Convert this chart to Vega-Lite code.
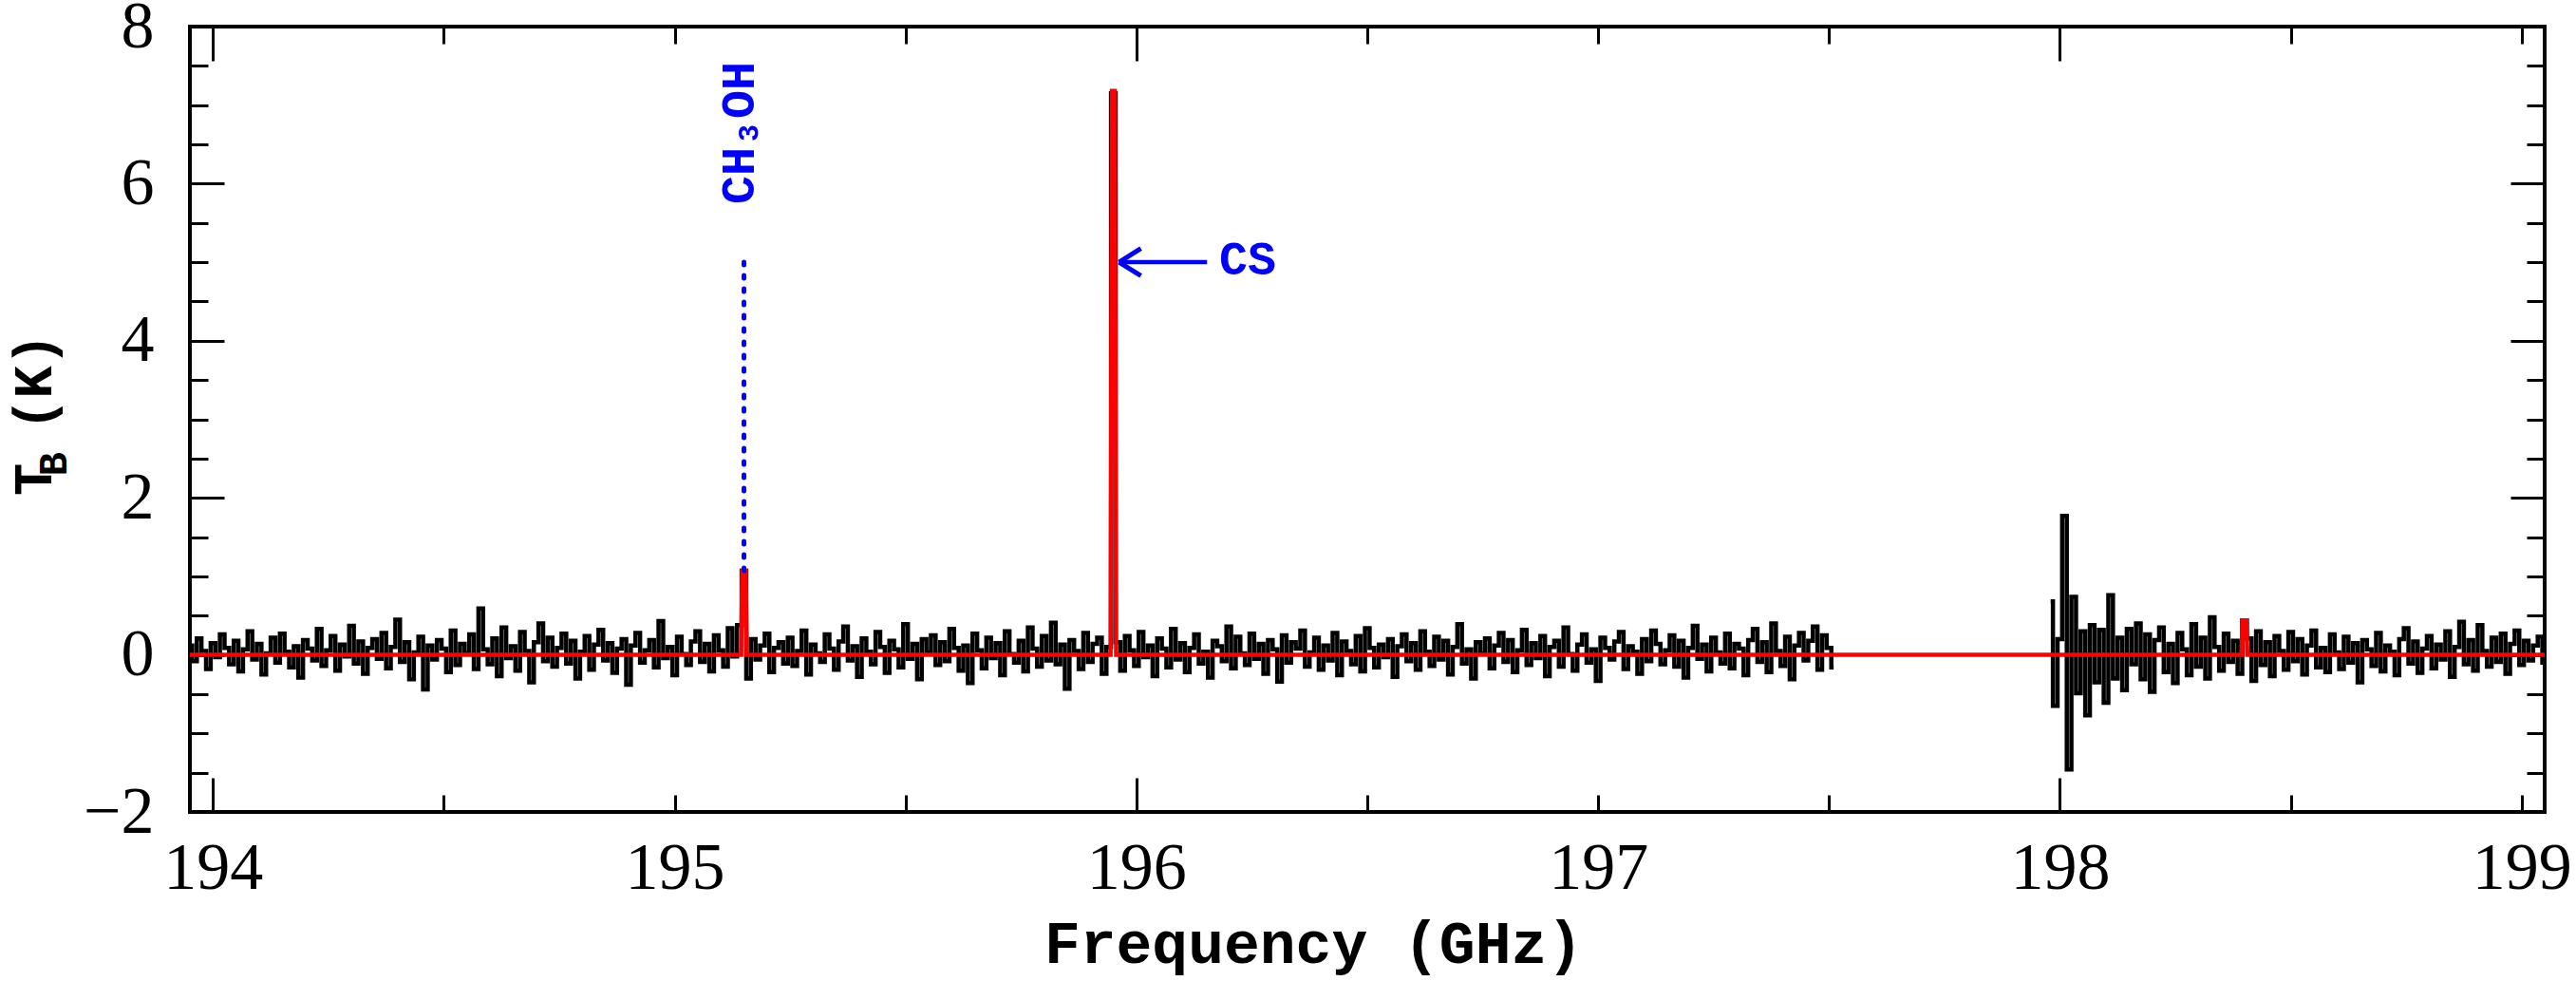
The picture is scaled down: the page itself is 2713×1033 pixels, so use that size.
{
  "$schema": "https://vega.github.io/schema/vega-lite/v6.json",
  "width": 2480,
  "height": 827,
  "autosize": {"type": "none"},
  "padding": {"left": 200, "top": 28, "right": 33, "bottom": 178},
  "background": "white",
  "config": {
    "view": {"stroke": "#000", "strokeWidth": 4},
    "axis": {
      "grid": false, "domain": false, "tickColor": "#000", "tickWidth": 3,
      "labelColor": "#000", "titleColor": "#000",
      "labelFont": "Liberation Serif", "labelFontSize": 70,
      "titleFont": "Liberation Mono", "titleFontWeight": "bold",
      "labelOverlap": false, "labelFlush": false
    }
  },
  "datasets": {
    "obs": [
      {"f":193.95,"t":0.12,"s":1},{"f":193.96,"t":-0.08,"s":1},{"f":193.97,"t":0.21,"s":1},{"f":193.98,"t":0.05,"s":1},{"f":193.99,"t":-0.18,"s":1},
      {"f":194.00,"t":0.15,"s":1},{"f":194.01,"t":-0.03,"s":1},{"f":194.02,"t":0.26,"s":1},{"f":194.03,"t":0.09,"s":1},{"f":194.04,"t":-0.12,"s":1},
      {"f":194.05,"t":0.18,"s":1},{"f":194.06,"t":-0.21,"s":1},{"f":194.07,"t":0.07,"s":1},{"f":194.08,"t":0.30,"s":1},{"f":194.09,"t":-0.06,"s":1},
      {"f":194.10,"t":0.14,"s":1},{"f":194.11,"t":-0.25,"s":1},{"f":194.12,"t":0.02,"s":1},{"f":194.13,"t":0.22,"s":1},{"f":194.14,"t":-0.10,"s":1},
      {"f":194.15,"t":0.27,"s":1},{"f":194.16,"t":0.04,"s":1},{"f":194.17,"t":-0.16,"s":1},{"f":194.18,"t":0.11,"s":1},{"f":194.19,"t":-0.29,"s":1},
      {"f":194.20,"t":0.19,"s":1},{"f":194.21,"t":0.08,"s":1},{"f":194.22,"t":-0.07,"s":1},{"f":194.23,"t":0.33,"s":1},{"f":194.24,"t":-0.14,"s":1},
      {"f":194.25,"t":0.06,"s":1},{"f":194.26,"t":0.24,"s":1},{"f":194.27,"t":-0.20,"s":1},{"f":194.28,"t":0.13,"s":1},{"f":194.29,"t":-0.02,"s":1},
      {"f":194.30,"t":0.37,"s":1},{"f":194.31,"t":-0.11,"s":1},{"f":194.32,"t":0.17,"s":1},{"f":194.33,"t":-0.24,"s":1},{"f":194.34,"t":0.09,"s":1},
      {"f":194.35,"t":0.20,"s":1},{"f":194.36,"t":-0.05,"s":1},{"f":194.37,"t":0.28,"s":1},{"f":194.38,"t":-0.17,"s":1},{"f":194.39,"t":0.10,"s":1},
      {"f":194.40,"t":0.45,"s":1},{"f":194.41,"t":-0.09,"s":1},{"f":194.42,"t":0.16,"s":1},{"f":194.43,"t":-0.31,"s":1},{"f":194.44,"t":0.03,"s":1},
      {"f":194.45,"t":0.23,"s":1},{"f":194.46,"t":-0.44,"s":1},{"f":194.47,"t":0.12,"s":1},{"f":194.48,"t":-0.06,"s":1},{"f":194.49,"t":0.19,"s":1},
      {"f":194.50,"t":0.08,"s":1},{"f":194.51,"t":-0.22,"s":1},{"f":194.52,"t":0.31,"s":1},{"f":194.53,"t":-0.13,"s":1},{"f":194.54,"t":0.14,"s":1},
      {"f":194.55,"t":0.02,"s":1},{"f":194.56,"t":0.26,"s":1},{"f":194.57,"t":-0.18,"s":1},{"f":194.58,"t":0.59,"s":1},{"f":194.59,"t":0.07,"s":1},
      {"f":194.60,"t":-0.12,"s":1},{"f":194.61,"t":0.21,"s":1},{"f":194.62,"t":-0.27,"s":1},{"f":194.63,"t":0.35,"s":1},{"f":194.64,"t":-0.04,"s":1},
      {"f":194.65,"t":0.11,"s":1},{"f":194.66,"t":-0.20,"s":1},{"f":194.67,"t":0.29,"s":1},{"f":194.68,"t":0.05,"s":1},{"f":194.69,"t":-0.35,"s":1},
      {"f":194.70,"t":0.16,"s":1},{"f":194.71,"t":0.40,"s":1},{"f":194.72,"t":-0.08,"s":1},{"f":194.73,"t":0.22,"s":1},{"f":194.74,"t":-0.15,"s":1},
      {"f":194.75,"t":0.09,"s":1},{"f":194.76,"t":0.27,"s":1},{"f":194.77,"t":-0.11,"s":1},{"f":194.78,"t":0.18,"s":1},{"f":194.79,"t":-0.30,"s":1},
      {"f":194.80,"t":0.04,"s":1},{"f":194.81,"t":0.24,"s":1},{"f":194.82,"t":-0.19,"s":1},{"f":194.83,"t":0.13,"s":1},{"f":194.84,"t":0.32,"s":1},
      {"f":194.85,"t":-0.07,"s":1},{"f":194.86,"t":0.15,"s":1},{"f":194.87,"t":-0.23,"s":1},{"f":194.88,"t":0.08,"s":1},{"f":194.89,"t":0.20,"s":1},
      {"f":194.90,"t":-0.38,"s":1},{"f":194.91,"t":0.12,"s":1},{"f":194.92,"t":0.28,"s":1},{"f":194.93,"t":-0.10,"s":1},{"f":194.94,"t":0.06,"s":1},
      {"f":194.95,"t":0.19,"s":1},{"f":194.96,"t":-0.16,"s":1},{"f":194.97,"t":0.43,"s":1},{"f":194.98,"t":-0.04,"s":1},{"f":194.99,"t":0.10,"s":1},
      {"f":195.00,"t":-0.26,"s":1},{"f":195.01,"t":0.23,"s":1},{"f":195.02,"t":0.01,"s":1},{"f":195.03,"t":-0.13,"s":1},{"f":195.04,"t":0.17,"s":1},
      {"f":195.05,"t":0.30,"s":1},{"f":195.06,"t":-0.09,"s":1},{"f":195.07,"t":0.14,"s":1},{"f":195.08,"t":-0.21,"s":1},{"f":195.09,"t":0.25,"s":1},
      {"f":195.10,"t":0.06,"s":1},{"f":195.11,"t":-0.15,"s":1},{"f":195.12,"t":0.34,"s":1},{"f":195.13,"t":-0.02,"s":1},{"f":195.14,"t":0.38,"s":1},
      {"f":195.15,"t":1.07,"s":1},{"f":195.16,"t":-0.30,"s":1},{"f":195.17,"t":0.20,"s":1},{"f":195.18,"t":-0.06,"s":1},{"f":195.19,"t":0.12,"s":1},
      {"f":195.20,"t":0.27,"s":1},{"f":195.21,"t":-0.22,"s":1},{"f":195.22,"t":0.09,"s":1},{"f":195.23,"t":0.16,"s":1},{"f":195.24,"t":-0.11,"s":1},
      {"f":195.25,"t":0.22,"s":1},{"f":195.26,"t":-0.14,"s":1},{"f":195.27,"t":0.05,"s":1},{"f":195.28,"t":0.31,"s":1},{"f":195.29,"t":-0.25,"s":1},
      {"f":195.30,"t":0.13,"s":1},{"f":195.31,"t":0.02,"s":1},{"f":195.32,"t":-0.09,"s":1},{"f":195.33,"t":0.26,"s":1},{"f":195.34,"t":0.08,"s":1},
      {"f":195.35,"t":-0.19,"s":1},{"f":195.36,"t":0.17,"s":1},{"f":195.37,"t":0.36,"s":1},{"f":195.38,"t":-0.07,"s":1},{"f":195.39,"t":0.11,"s":1},
      {"f":195.40,"t":-0.28,"s":1},{"f":195.41,"t":0.21,"s":1},{"f":195.42,"t":0.04,"s":1},{"f":195.43,"t":-0.12,"s":1},{"f":195.44,"t":0.29,"s":1},
      {"f":195.45,"t":0.10,"s":1},{"f":195.46,"t":-0.23,"s":1},{"f":195.47,"t":0.18,"s":1},{"f":195.48,"t":0.07,"s":1},{"f":195.49,"t":-0.16,"s":1},
      {"f":195.50,"t":0.39,"s":1},{"f":195.51,"t":-0.05,"s":1},{"f":195.52,"t":0.14,"s":1},{"f":195.53,"t":-0.31,"s":1},{"f":195.54,"t":0.20,"s":1},
      {"f":195.55,"t":0.03,"s":1},{"f":195.56,"t":0.25,"s":1},{"f":195.57,"t":-0.13,"s":1},{"f":195.58,"t":0.16,"s":1},{"f":195.59,"t":-0.08,"s":1},
      {"f":195.60,"t":0.33,"s":1},{"f":195.61,"t":0.09,"s":1},{"f":195.62,"t":-0.20,"s":1},{"f":195.63,"t":0.12,"s":1},{"f":195.64,"t":-0.36,"s":1},
      {"f":195.65,"t":0.27,"s":1},{"f":195.66,"t":0.06,"s":1},{"f":195.67,"t":-0.17,"s":1},{"f":195.68,"t":0.22,"s":1},{"f":195.69,"t":-0.04,"s":1},
      {"f":195.70,"t":0.15,"s":1},{"f":195.71,"t":-0.26,"s":1},{"f":195.72,"t":0.30,"s":1},{"f":195.73,"t":0.01,"s":1},{"f":195.74,"t":-0.10,"s":1},
      {"f":195.75,"t":0.18,"s":1},{"f":195.76,"t":-0.21,"s":1},{"f":195.77,"t":0.35,"s":1},{"f":195.78,"t":0.08,"s":1},{"f":195.79,"t":-0.15,"s":1},
      {"f":195.80,"t":0.24,"s":1},{"f":195.81,"t":-0.07,"s":1},{"f":195.82,"t":0.41,"s":1},{"f":195.83,"t":-0.12,"s":1},{"f":195.84,"t":0.13,"s":1},
      {"f":195.85,"t":-0.43,"s":1},{"f":195.86,"t":0.19,"s":1},{"f":195.87,"t":0.05,"s":1},{"f":195.88,"t":-0.18,"s":1},{"f":195.89,"t":0.28,"s":1},
      {"f":195.90,"t":-0.09,"s":1},{"f":195.91,"t":0.14,"s":1},{"f":195.92,"t":0.22,"s":1},{"f":195.93,"t":-0.24,"s":1},{"f":195.94,"t":0.10,"s":1},
      {"f":195.95,"t":7.15,"s":1},{"f":195.96,"t":0.16,"s":1},{"f":195.97,"t":-0.20,"s":1},{"f":195.98,"t":0.24,"s":1},{"f":195.99,"t":0.06,"s":1},
      {"f":196.00,"t":-0.14,"s":1},{"f":196.01,"t":0.29,"s":1},{"f":196.02,"t":-0.03,"s":1},{"f":196.03,"t":0.12,"s":1},{"f":196.04,"t":-0.27,"s":1},
      {"f":196.05,"t":0.21,"s":1},{"f":196.06,"t":0.08,"s":1},{"f":196.07,"t":-0.16,"s":1},{"f":196.08,"t":0.33,"s":1},{"f":196.09,"t":-0.06,"s":1},
      {"f":196.10,"t":0.15,"s":1},{"f":196.11,"t":-0.22,"s":1},{"f":196.12,"t":0.09,"s":1},{"f":196.13,"t":0.26,"s":1},{"f":196.14,"t":-0.11,"s":1},
      {"f":196.15,"t":0.04,"s":1},{"f":196.16,"t":-0.29,"s":1},{"f":196.17,"t":0.18,"s":1},{"f":196.18,"t":0.11,"s":1},{"f":196.19,"t":-0.08,"s":1},
      {"f":196.20,"t":0.36,"s":1},{"f":196.21,"t":-0.17,"s":1},{"f":196.22,"t":0.23,"s":1},{"f":196.23,"t":0.02,"s":1},{"f":196.24,"t":-0.13,"s":1},
      {"f":196.25,"t":0.27,"s":1},{"f":196.26,"t":-0.05,"s":1},{"f":196.27,"t":0.14,"s":1},{"f":196.28,"t":-0.24,"s":1},{"f":196.29,"t":0.19,"s":1},
      {"f":196.30,"t":0.07,"s":1},{"f":196.31,"t":-0.34,"s":1},{"f":196.32,"t":0.25,"s":1},{"f":196.33,"t":-0.10,"s":1},{"f":196.34,"t":0.16,"s":1},
      {"f":196.35,"t":0.08,"s":1},{"f":196.36,"t":0.31,"s":1},{"f":196.37,"t":-0.15,"s":1},{"f":196.38,"t":0.03,"s":1},{"f":196.39,"t":0.22,"s":1},
      {"f":196.40,"t":-0.19,"s":1},{"f":196.41,"t":0.12,"s":1},{"f":196.42,"t":-0.07,"s":1},{"f":196.43,"t":0.28,"s":1},{"f":196.44,"t":-0.26,"s":1},
      {"f":196.45,"t":0.17,"s":1},{"f":196.46,"t":0.05,"s":1},{"f":196.47,"t":-0.12,"s":1},{"f":196.48,"t":0.24,"s":1},{"f":196.49,"t":-0.21,"s":1},
      {"f":196.50,"t":0.34,"s":1},{"f":196.51,"t":0.09,"s":1},{"f":196.52,"t":-0.16,"s":1},{"f":196.53,"t":0.13,"s":1},{"f":196.54,"t":-0.03,"s":1},
      {"f":196.55,"t":0.20,"s":1},{"f":196.56,"t":-0.28,"s":1},{"f":196.57,"t":0.11,"s":1},{"f":196.58,"t":0.26,"s":1},{"f":196.59,"t":-0.08,"s":1},
      {"f":196.60,"t":0.15,"s":1},{"f":196.61,"t":-0.19,"s":1},{"f":196.62,"t":0.30,"s":1},{"f":196.63,"t":0.04,"s":1},{"f":196.64,"t":-0.14,"s":1},
      {"f":196.65,"t":0.23,"s":1},{"f":196.66,"t":-0.06,"s":1},{"f":196.67,"t":0.18,"s":1},{"f":196.68,"t":-0.25,"s":1},{"f":196.69,"t":0.10,"s":1},
      {"f":196.70,"t":0.39,"s":1},{"f":196.71,"t":-0.11,"s":1},{"f":196.72,"t":0.07,"s":1},{"f":196.73,"t":-0.30,"s":1},{"f":196.74,"t":0.16,"s":1},
      {"f":196.75,"t":0.02,"s":1},{"f":196.76,"t":0.21,"s":1},{"f":196.77,"t":-0.17,"s":1},{"f":196.78,"t":0.12,"s":1},{"f":196.79,"t":0.28,"s":1},
      {"f":196.80,"t":-0.09,"s":1},{"f":196.81,"t":0.19,"s":1},{"f":196.82,"t":-0.22,"s":1},{"f":196.83,"t":0.06,"s":1},{"f":196.84,"t":0.32,"s":1},
      {"f":196.85,"t":-0.13,"s":1},{"f":196.86,"t":0.15,"s":1},{"f":196.87,"t":-0.04,"s":1},{"f":196.88,"t":0.24,"s":1},{"f":196.89,"t":-0.27,"s":1},
      {"f":196.90,"t":0.10,"s":1},{"f":196.91,"t":0.18,"s":1},{"f":196.92,"t":-0.15,"s":1},{"f":196.93,"t":0.35,"s":1},{"f":196.94,"t":0.01,"s":1},
      {"f":196.95,"t":-0.20,"s":1},{"f":196.96,"t":0.13,"s":1},{"f":196.97,"t":0.26,"s":1},{"f":196.98,"t":-0.10,"s":1},{"f":196.99,"t":0.07,"s":1},
      {"f":197.00,"t":-0.33,"s":1},{"f":197.01,"t":0.22,"s":1},{"f":197.02,"t":0.09,"s":1},{"f":197.03,"t":-0.06,"s":1},{"f":197.04,"t":0.17,"s":1},
      {"f":197.05,"t":0.29,"s":1},{"f":197.06,"t":-0.18,"s":1},{"f":197.07,"t":0.11,"s":1},{"f":197.08,"t":0.04,"s":1},{"f":197.09,"t":-0.24,"s":1},
      {"f":197.10,"t":0.20,"s":1},{"f":197.11,"t":-0.08,"s":1},{"f":197.12,"t":0.31,"s":1},{"f":197.13,"t":0.14,"s":1},{"f":197.14,"t":-0.12,"s":1},
      {"f":197.15,"t":0.06,"s":1},{"f":197.16,"t":0.25,"s":1},{"f":197.17,"t":-0.15,"s":1},{"f":197.18,"t":0.18,"s":1},{"f":197.19,"t":-0.29,"s":1},
      {"f":197.20,"t":0.09,"s":1},{"f":197.21,"t":0.37,"s":1},{"f":197.22,"t":-0.05,"s":1},{"f":197.23,"t":0.13,"s":1},{"f":197.24,"t":-0.21,"s":1},
      {"f":197.25,"t":0.22,"s":1},{"f":197.26,"t":0.03,"s":1},{"f":197.27,"t":-0.11,"s":1},{"f":197.28,"t":0.27,"s":1},{"f":197.29,"t":-0.17,"s":1},
      {"f":197.30,"t":0.14,"s":1},{"f":197.31,"t":0.08,"s":1},{"f":197.32,"t":-0.26,"s":1},{"f":197.33,"t":0.19,"s":1},{"f":197.34,"t":0.33,"s":1},
      {"f":197.35,"t":-0.09,"s":1},{"f":197.36,"t":0.16,"s":1},{"f":197.37,"t":-0.22,"s":1},{"f":197.38,"t":0.40,"s":1},{"f":197.39,"t":0.05,"s":1},
      {"f":197.40,"t":-0.14,"s":1},{"f":197.41,"t":0.23,"s":1},{"f":197.42,"t":-0.31,"s":1},{"f":197.43,"t":0.12,"s":1},{"f":197.44,"t":0.28,"s":1},
      {"f":197.45,"t":-0.07,"s":1},{"f":197.46,"t":0.18,"s":1},{"f":197.47,"t":0.36,"s":1},{"f":197.48,"t":-0.19,"s":1},{"f":197.49,"t":0.25,"s":1},
      {"f":197.50,"t":0.09,"s":1},{"f":197.51,"t":-0.16,"s":1},
      {"f":197.98,"t":0.68,"s":2},{"f":197.99,"t":-0.65,"s":2},{"f":198.00,"t":0.20,"s":2},{"f":198.01,"t":1.77,"s":2},{"f":198.02,"t":-1.46,"s":2},
      {"f":198.03,"t":0.74,"s":2},{"f":198.04,"t":-0.49,"s":2},{"f":198.05,"t":0.30,"s":2},{"f":198.06,"t":-0.77,"s":2},{"f":198.07,"t":0.38,"s":2},
      {"f":198.08,"t":-0.35,"s":2},{"f":198.09,"t":0.32,"s":2},{"f":198.10,"t":-0.61,"s":2},{"f":198.11,"t":0.76,"s":2},{"f":198.12,"t":-0.30,"s":2},
      {"f":198.13,"t":0.22,"s":2},{"f":198.14,"t":-0.45,"s":2},{"f":198.15,"t":0.33,"s":2},{"f":198.16,"t":-0.12,"s":2},{"f":198.17,"t":0.40,"s":2},
      {"f":198.18,"t":-0.31,"s":2},{"f":198.19,"t":0.26,"s":2},{"f":198.20,"t":-0.47,"s":2},{"f":198.21,"t":0.19,"s":2},{"f":198.22,"t":0.35,"s":2},
      {"f":198.23,"t":-0.22,"s":2},{"f":198.24,"t":0.14,"s":2},{"f":198.25,"t":-0.36,"s":2},{"f":198.26,"t":0.28,"s":2},{"f":198.27,"t":0.07,"s":2},
      {"f":198.28,"t":-0.26,"s":2},{"f":198.29,"t":0.39,"s":2},{"f":198.30,"t":-0.15,"s":2},{"f":198.31,"t":0.22,"s":2},{"f":198.32,"t":-0.30,"s":2},
      {"f":198.33,"t":0.48,"s":2},{"f":198.34,"t":0.10,"s":2},{"f":198.35,"t":-0.20,"s":2},{"f":198.36,"t":0.27,"s":2},{"f":198.37,"t":-0.09,"s":2},
      {"f":198.38,"t":0.18,"s":2},{"f":198.39,"t":-0.24,"s":2},{"f":198.40,"t":0.44,"s":2},{"f":198.41,"t":0.21,"s":2},{"f":198.42,"t":-0.33,"s":2},
      {"f":198.43,"t":0.30,"s":2},{"f":198.44,"t":-0.13,"s":2},{"f":198.45,"t":0.16,"s":2},{"f":198.46,"t":-0.27,"s":2},{"f":198.47,"t":0.24,"s":2},
      {"f":198.48,"t":0.05,"s":2},{"f":198.49,"t":-0.19,"s":2},{"f":198.50,"t":0.29,"s":2},{"f":198.51,"t":-0.08,"s":2},{"f":198.52,"t":0.20,"s":2},
      {"f":198.53,"t":-0.25,"s":2},{"f":198.54,"t":0.12,"s":2},{"f":198.55,"t":0.31,"s":2},{"f":198.56,"t":-0.16,"s":2},{"f":198.57,"t":0.09,"s":2},
      {"f":198.58,"t":-0.22,"s":2},{"f":198.59,"t":0.26,"s":2},{"f":198.60,"t":0.03,"s":2},{"f":198.61,"t":-0.18,"s":2},{"f":198.62,"t":0.23,"s":2},
      {"f":198.63,"t":-0.10,"s":2},{"f":198.64,"t":0.15,"s":2},{"f":198.65,"t":-0.35,"s":2},{"f":198.66,"t":0.19,"s":2},{"f":198.67,"t":0.07,"s":2},
      {"f":198.68,"t":-0.14,"s":2},{"f":198.69,"t":0.28,"s":2},{"f":198.70,"t":-0.21,"s":2},{"f":198.71,"t":0.12,"s":2},{"f":198.72,"t":0.04,"s":2},
      {"f":198.73,"t":-0.26,"s":2},{"f":198.74,"t":0.20,"s":2},{"f":198.75,"t":0.34,"s":2},{"f":198.76,"t":-0.11,"s":2},{"f":198.77,"t":0.17,"s":2},
      {"f":198.78,"t":-0.23,"s":2},{"f":198.79,"t":0.08,"s":2},{"f":198.80,"t":0.24,"s":2},{"f":198.81,"t":-0.17,"s":2},{"f":198.82,"t":0.13,"s":2},
      {"f":198.83,"t":-0.06,"s":2},{"f":198.84,"t":0.30,"s":2},{"f":198.85,"t":-0.28,"s":2},{"f":198.86,"t":0.10,"s":2},{"f":198.87,"t":0.42,"s":2},
      {"f":198.88,"t":-0.12,"s":2},{"f":198.89,"t":0.19,"s":2},{"f":198.90,"t":-0.20,"s":2},{"f":198.91,"t":0.38,"s":2},{"f":198.92,"t":0.05,"s":2},
      {"f":198.93,"t":-0.15,"s":2},{"f":198.94,"t":0.22,"s":2},{"f":198.95,"t":-0.09,"s":2},{"f":198.96,"t":0.27,"s":2},{"f":198.97,"t":-0.24,"s":2},
      {"f":198.98,"t":0.14,"s":2},{"f":198.99,"t":0.31,"s":2},{"f":199.00,"t":-0.13,"s":2},{"f":199.01,"t":0.18,"s":2},{"f":199.02,"t":-0.07,"s":2},
      {"f":199.03,"t":0.12,"s":2},{"f":199.04,"t":0.23,"s":2},{"f":199.05,"t":-0.10,"s":2}
    ],
    "model": [
      {"f":193.95,"t":0},{"f":195.144,"t":0},{"f":195.146,"t":1.07},{"f":195.154,"t":1.07},{"f":195.156,"t":0},
      {"f":195.944,"t":0},{"f":195.947,"t":7.18},{"f":195.953,"t":7.18},{"f":195.956,"t":0},
      {"f":198.394,"t":0},{"f":198.396,"t":0.44},{"f":198.404,"t":0.44},{"f":198.406,"t":0},{"f":199.05,"t":0}
    ],
    "marker": [{"f":195.15,"lo":1.07,"hi":5.09}],
    "arrow": [{"f1":195.962,"f2":196.153,"t":5.0}],
    "head": [{"f":195.986,"t":5.0}],
    "cs": [{"f":196.179,"t":5.02,"txt":"CS"}],
    "meth": [{"f":195.141,"t":5.74,"txt":"CH₃OH"}],
    "sub": [{"f":193.656,"t":2.43,"txt":"B"}]
  },
  "resolve": {"axis": {"x": "independent", "y": "independent"}},
  "layer": [
    {
      "data": {"name": "obs"},
      "mark": {"type": "line", "interpolate": "step", "color": "#000", "strokeWidth": 4.5},
      "encoding": {
        "x": {"field": "f", "type": "quantitative",
          "scale": {"domain": [193.95, 199.05], "nice": false, "zero": false},
          "axis": {"orient": "bottom", "values": [194, 195, 196, 197, 198, 199], "format": "d", "ticks": false,
            "labelPadding": 25, "labelBaseline": "top",
            "title": "Frequency (GHz)", "titleFontSize": 63, "titleX": 1183, "titleY": 158,
            "titleAlign": "center", "titleBaseline": "alphabetic"}},
        "y": {"field": "t", "type": "quantitative",
          "scale": {"domain": [-2, 8], "nice": false, "zero": false},
          "axis": {"orient": "left", "values": [-2, 0, 2, 4, 6, 8], "format": "d", "ticks": false,
            "labelPadding": 38,
            "title": "T  (K)", "titleFontSize": 57, "titleAngle": -90, "titleX": -147, "titleY": 408,
            "titleAlign": "center", "titleBaseline": "alphabetic"}},
        "detail": {"field": "s"}
      }
    },
    {
      "data": {"name": "model"},
      "mark": {"type": "line", "color": "#ff0000", "strokeWidth": 4.5},
      "encoding": {
        "x": {"field": "f", "type": "quantitative",
          "axis": {"orient": "bottom", "values": [194, 196, 198], "tickSize": -36, "labels": false, "title": null}},
        "y": {"field": "t", "type": "quantitative",
          "axis": {"orient": "left", "values": [-2, 0, 2, 4, 6, 8], "tickSize": -36, "labels": false, "title": null}}
      }
    },
    {
      "data": {"name": "marker"},
      "mark": {"type": "rule", "color": "#0000ff", "strokeWidth": 5, "strokeDash": [3, 11], "strokeCap": "round"},
      "encoding": {
        "x": {"field": "f", "type": "quantitative",
          "axis": {"orient": "bottom", "values": [194, 194.5, 195, 195.5, 196, 196.5, 197, 197.5, 198, 198.5, 199],
            "tickSize": -18, "labels": false, "title": null}},
        "y": {"field": "lo", "type": "quantitative",
          "axis": {"orient": "left", "values": [-2, -1.5, -1, -0.5, 0, 0.5, 1, 1.5, 2, 2.5, 3, 3.5, 4, 4.5, 5, 5.5, 6, 6.5, 7, 7.5, 8],
            "tickSize": -19, "labels": false, "title": null}},
        "y2": {"field": "hi"}
      }
    },
    {
      "data": {"name": "arrow"},
      "mark": {"type": "rule", "color": "#0000ff", "strokeWidth": 4.5},
      "encoding": {
        "x": {"field": "f1", "type": "quantitative",
          "axis": {"orient": "top", "values": [194, 196, 198], "tickSize": -36, "labels": false, "title": null}},
        "x2": {"field": "f2"},
        "y": {"field": "t", "type": "quantitative",
          "axis": {"orient": "right", "values": [-2, 0, 2, 4, 6, 8], "tickSize": -36, "labels": false, "title": null}}
      }
    },
    {
      "data": {"name": "head"},
      "mark": {"type": "point", "shape": "M-1,0L1,-1.25M-1,0L1,1.25", "size": 529, "filled": false,
        "stroke": "#0000ff", "strokeWidth": 5, "opacity": 1},
      "encoding": {
        "x": {"field": "f", "type": "quantitative",
          "axis": {"orient": "top", "values": [194, 194.5, 195, 195.5, 196, 196.5, 197, 197.5, 198, 198.5, 199],
            "tickSize": -18, "labels": false, "title": null}},
        "y": {"field": "t", "type": "quantitative",
          "axis": {"orient": "right", "values": [-2, -1.5, -1, -0.5, 0, 0.5, 1, 1.5, 2, 2.5, 3, 3.5, 4, 4.5, 5, 5.5, 6, 6.5, 7, 7.5, 8],
            "tickSize": -19, "labels": false, "title": null}}
      }
    },
    {
      "data": {"name": "cs"},
      "mark": {"type": "text", "font": "Liberation Mono", "fontWeight": "bold", "fontSize": 50, "color": "#0000ff",
        "align": "left", "baseline": "middle"},
      "encoding": {
        "x": {"field": "f", "type": "quantitative", "axis": null},
        "y": {"field": "t", "type": "quantitative", "axis": null},
        "text": {"field": "txt"}
      }
    },
    {
      "data": {"name": "meth"},
      "mark": {"type": "text", "font": "Liberation Mono", "fontWeight": "bold", "fontSize": 50, "color": "#0000ff",
        "align": "left", "baseline": "middle", "angle": -90},
      "encoding": {
        "x": {"field": "f", "type": "quantitative", "axis": null},
        "y": {"field": "t", "type": "quantitative", "axis": null},
        "text": {"field": "txt"}
      }
    },
    {
      "data": {"name": "sub"},
      "mark": {"type": "text", "font": "Liberation Mono", "fontWeight": "bold", "fontSize": 42, "color": "#000",
        "align": "center", "baseline": "middle", "angle": -90},
      "encoding": {
        "x": {"field": "f", "type": "quantitative", "axis": null},
        "y": {"field": "t", "type": "quantitative", "axis": null},
        "text": {"field": "txt"}
      }
    }
  ]
}
